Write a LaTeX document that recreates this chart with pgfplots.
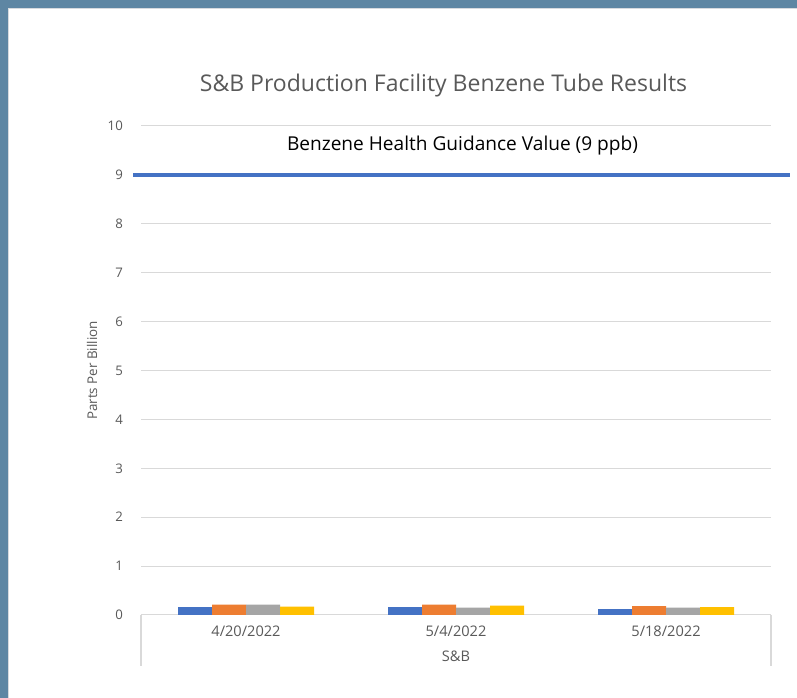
\documentclass[border=0pt]{standalone}
\usepackage{pgfplots}
\pgfplotsset{compat=1.18}
\usepackage{fontspec}
\setmainfont{Open Sans}
\definecolor{bordercol}{RGB}{94,134,163}
\definecolor{edgegray}{RGB}{215,218,222}
\definecolor{gridgray}{RGB}{217,217,217}
\definecolor{txtgray}{RGB}{89,89,89}
\definecolor{xlblue}{RGB}{68,114,196}
\definecolor{xlorange}{RGB}{237,125,49}
\definecolor{xlgray}{RGB}{165,165,165}
\definecolor{xlyellow}{RGB}{255,192,0}
\begin{document}
\begin{tikzpicture}[x=1pt,y=1pt]
\path[use as bounding box] (0,0) rectangle (797,698);
\fill[bordercol] (0,0) rectangle (797,698);
\fill[white] (8,0) rectangle (797,690);
\draw[edgegray, line width=1.5pt] (8.5,0) -- (8.5,689.5) -- (797,689.5);
\node[anchor=base, text=txtgray, font=\fontsize{23}{27}\selectfont] at (443.5,606) {S\&B Production Facility Benzene Tube Results};
\begin{axis}[
  at={(141pt,83pt)}, anchor=south west,
  scale only axis, width=630pt, height=489pt,
  xmin=-0.5, xmax=2.5, ymin=0, ymax=10,
  enlargelimits=false, clip=false,
  /pgf/number format/assume math mode=true,
  ybar=0pt, bar width=34pt,
  axis line style={draw=none},
  major tick length=0pt,
  ytick={0,1,...,10},
  ymajorgrids, major grid style={gridgray, line width=1pt},
  xtick={0,1,2},
  xticklabels={4/20/2022,5/4/2022,5/18/2022},
  xticklabel style={anchor=base, yshift=-21pt, text=txtgray, font=\fontsize{14.6}{18}\selectfont},
  yticklabel style={anchor=east, inner sep=0pt, xshift=-18pt, text=txtgray, font=\fontsize{13.2}{16}\selectfont},
  xlabel={S\&B},
  xlabel style={at={(axis description cs:0.5,0)}, anchor=base, yshift=-46pt, text=txtgray, font=\fontsize{14.6}{18}\selectfont},
  ylabel={Parts Per Billion},
  ylabel style={at={(axis description cs:-0.0698,0.5)}, anchor=base, rotate=0, text=txtgray, font=\fontsize{13.4}{16}\selectfont},
]
\addplot[fill=xlblue, draw=none] coordinates {(0,0.16) (1,0.16) (2,0.12)};
\addplot[fill=xlorange, draw=none] coordinates {(0,0.21) (1,0.21) (2,0.18)};
\addplot[fill=xlgray, draw=none] coordinates {(0,0.21) (1,0.15) (2,0.15)};
\addplot[fill=xlyellow, draw=none] coordinates {(0,0.17) (1,0.19) (2,0.16)};
\addplot[sharp plot, xlblue, line width=3.5pt, forget plot] coordinates {(-0.538,9) (2.590,9)};
\draw[gridgray, line width=1.5pt] (axis description cs:0,0) -- (axis description cs:0,-0.1043);
\draw[gridgray, line width=1.5pt] (axis description cs:1,0) -- (axis description cs:1,-0.1043);
\node[anchor=base, text=black, font=\fontsize{19.1}{23}\selectfont] at (axis cs:1.031,9.509) {Benzene Health Guidance Value (9 ppb)};
\end{axis}
\end{tikzpicture}
\end{document}
